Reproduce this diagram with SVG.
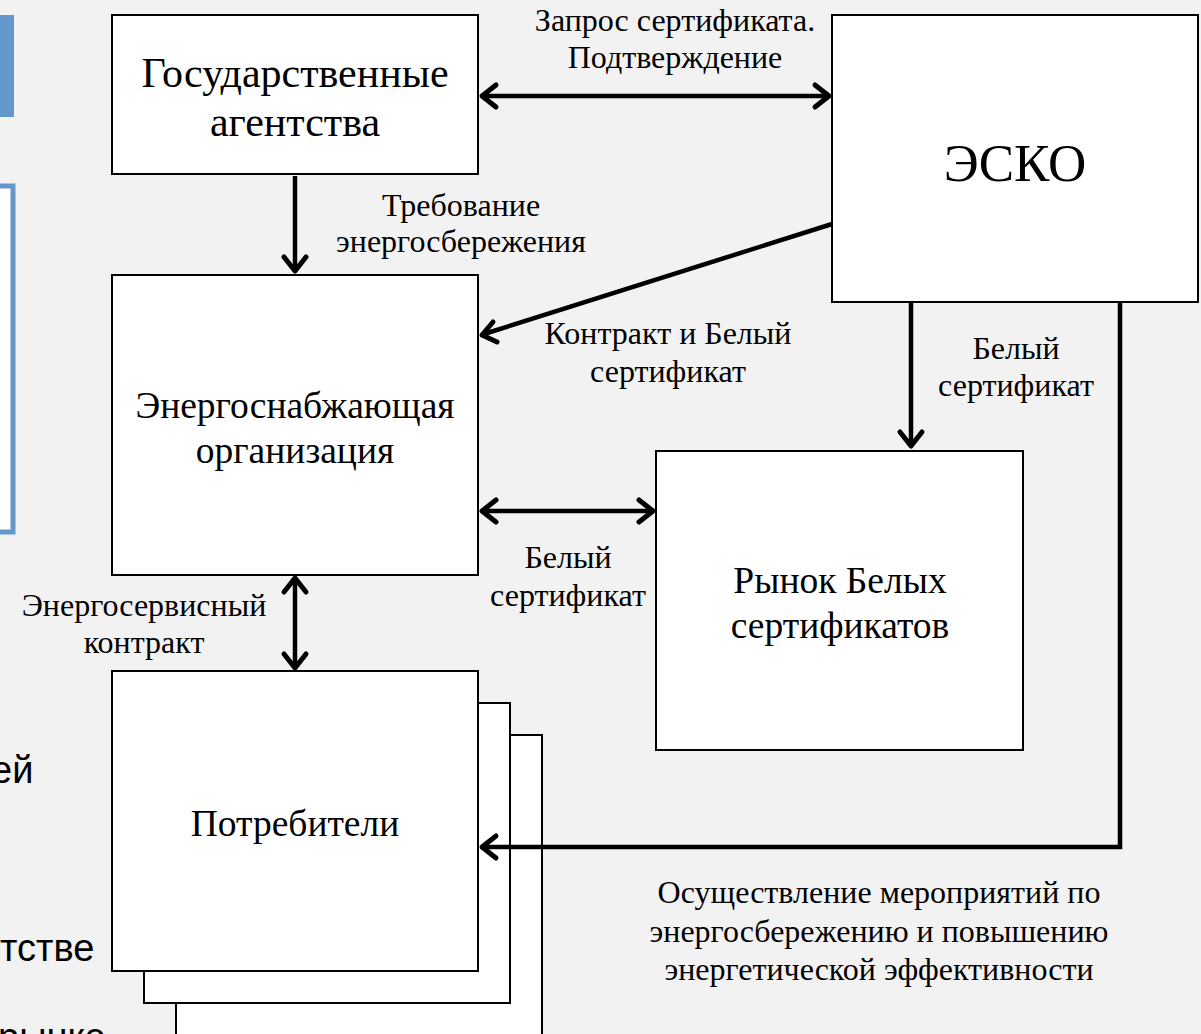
<svg xmlns="http://www.w3.org/2000/svg" width="1201" height="1034" viewBox="0 0 1201 1034">
<defs>
<style>
.bg{fill:#f2f2f2}
.box{fill:#ffffff;stroke:#000;stroke-width:2}
.t{font-family:"Liberation Serif","Times New Roman",serif;fill:#000;text-anchor:middle}
.title{font-size:37.5px}
.lbl{font-size:32px}
.side{font-family:"Liberation Sans",Arial,sans-serif;font-size:38px;fill:#000}
.ln{stroke:#000;stroke-width:4.5;fill:none}
.hd{stroke:#000;stroke-width:5;fill:none;stroke-linecap:round;stroke-linejoin:round}
</style>
</defs>
<rect class="bg" x="0" y="0" width="1201" height="1034"/>
<g id="side">
<rect x="-5" y="15" width="19" height="102" fill="#6497cb"/>
<rect x="-5" y="186" width="18" height="346" fill="#ffffff" stroke="#6497cb" stroke-width="5"/>
<text class="side" x="-9" y="783">ей</text>
<text class="side" x="0" y="961">тстве</text>
<text class="side" x="-2" y="1050">рынке</text>
</g>
<g id="gov">
<rect class="box" x="112" y="15" width="366" height="159"/>
<text class="t" font-size="42" x="295" y="87">Государственные</text>
<text class="t" font-size="42" x="295" y="136">агентства</text>
</g>
<g id="esco">
<rect class="box" x="832" y="15" width="366" height="287"/>
<text class="t" font-size="53" x="1015" y="181">ЭСКО</text>
</g>
<g id="supply">
<rect class="box" x="112" y="275" width="366" height="300"/>
<text class="t title" x="295" y="418">Энергоснабжающая</text>
<text class="t title" x="295" y="463">организация</text>
</g>
<g id="market">
<rect class="box" x="656" y="451" width="367" height="299"/>
<text class="t title" x="840" y="593">Рынок Белых</text>
<text class="t title" x="840" y="638">сертификатов</text>
</g>
<g id="consumers">
<rect class="box" x="176" y="735" width="366" height="320"/>
<rect class="box" x="144" y="703" width="366" height="300"/>
<rect class="box" x="112" y="671" width="366" height="300"/>
<text class="t title" x="295" y="836">Потребители</text>
</g>
<g id="connectors">
<line class="ln" x1="483" y1="96" x2="828" y2="96"/>
<polyline class="hd" points="496,85 482,96 496,107"/>
<polyline class="hd" points="815,85 829,96 815,107"/>
<line class="ln" x1="295" y1="176" x2="295" y2="270"/>
<polyline class="hd" points="284,257 295,271 306,257"/>
<line class="ln" x1="832" y1="224" x2="484" y2="334"/>
<polyline class="hd" points="493,322 482,335 497,342"/>
<line class="ln" x1="911" y1="302" x2="911" y2="445"/>
<polyline class="hd" points="900,432 911,446 922,432"/>
<polyline class="ln" points="1120,302 1120,847 483,847"/>
<polyline class="hd" points="496,836 482,847 496,858"/>
<line class="ln" x1="483" y1="511" x2="652" y2="511"/>
<polyline class="hd" points="496,500 482,511 496,522"/>
<polyline class="hd" points="639,500 653,511 639,522"/>
<line class="ln" x1="295" y1="579" x2="295" y2="667"/>
<polyline class="hd" points="284,592 295,578 306,592"/>
<polyline class="hd" points="284,654 295,668 306,654"/>
</g>
<g id="labels">
<text class="t lbl" x="675" y="31">Запрос сертификата.</text>
<text class="t lbl" x="675" y="68">Подтверждение</text>
<text class="t lbl" x="461" y="216">Требование</text>
<text class="t lbl" x="461" y="252">энергосбережения</text>
<text class="t lbl" x="668" y="344">Контракт и Белый</text>
<text class="t lbl" x="668" y="382">сертификат</text>
<text class="t lbl" x="1016" y="359">Белый</text>
<text class="t lbl" x="1016" y="396">сертификат</text>
<text class="t lbl" x="568" y="568">Белый</text>
<text class="t lbl" x="568" y="606">сертификат</text>
<text class="t lbl" x="144" y="616">Энергосервисный</text>
<text class="t lbl" x="144" y="653">контракт</text>
<text class="t lbl" x="879" y="903">Осуществление мероприятий по</text>
<text class="t lbl" x="879" y="942">энергосбережению и повышению</text>
<text class="t lbl" x="879" y="980">энергетической эффективности</text>
</g>
</svg>
